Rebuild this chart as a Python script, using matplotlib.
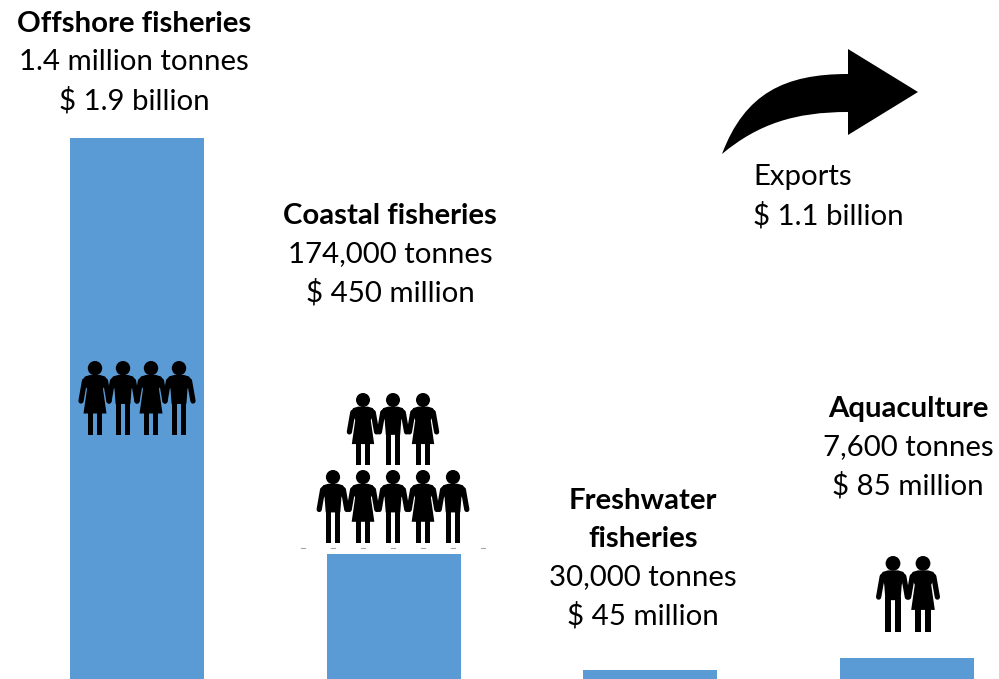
import matplotlib
matplotlib.use("Agg")
import matplotlib.pyplot as plt
from matplotlib.patches import Circle, Polygon, PathPatch
from matplotlib.path import Path

# landed value of each sector, $ million
sectors = ["Offshore fisheries", "Coastal fisheries", "Freshwater fisheries", "Aquaculture"]
value_musd = [1900, 450, 45, 85]

titles = ["Offshore fisheries", "Coastal fisheries", "Freshwater\nfisheries", "Aquaculture"]
tonnes = ["1.4 million tonnes", "174,000 tonnes", "30,000 tonnes", "7,600 tonnes"]
values = ["$ 1.9 billion", "$ 450 million", "$ 45 million", "$ 85 million"]
exports = ["Exports", "$ 1.1 billion"]

BLUE = "#5B9BD5"
FONT = "Lato"
SIZE = 21.2
LINE = 38.2

fig = plt.figure(figsize=(9.99, 6.79), dpi=100)

ax = fig.add_axes([0, 0, 1, 1])
ax.bar(range(len(sectors)), value_musd, width=0.523, color=BLUE)
ax.set_xlim(-0.536, 3.36)
# zero sits just under the bottom edge
ax.set_ylim(12.2, 2381)
ax.axis("off")

# second layer in pixel units for the labels and pictograms
top = fig.add_axes([0, 0, 1, 1])
top.set_xlim(0, 999)
top.set_ylim(679, 0)
top.axis("off")
top.patch.set_alpha(0)


def person(cx, y0, kind, h=74):
    s = h / 74
    def pts(lst):
        return [(cx + a * s, y0 + b * s) for a, b in lst]
    top.add_patch(Circle((cx, y0 + 7.2 * s), 7.2 * s, color="black", lw=0))
    for side in (-1, 1):
        top.plot([cx + side * 10.5 * s, cx + side * 14 * s], [y0 + 20 * s, y0 + 40 * s],
                 color="black", lw=3.8, solid_capstyle="round")
        # leg
        top.add_patch(Polygon(pts([(side * 1.6, 40), (side * 7.4, 40), (side * 7.4, 74), (side * 1.6, 74)]),
                              color="black", lw=0))
    if kind == "m":
        body = [(-5, 14), (5, 14), (10, 15.5), (12.5, 19), (8.5, 28), (7.4, 43), (-7.4, 43), (-8.5, 28), (-12.5, 19), (-10, 15.5)]
    else:
        body = [(-5, 14), (5, 14), (10, 15.5), (12.5, 19), (8, 28), (11.5, 52.5), (-11.5, 52.5), (-8, 28), (-12.5, 19), (-10, 15.5)]
    top.add_patch(Polygon(pts(body), color="black", lw=0))


for cx, kind in zip([95, 123, 151, 179], "wmwm"):
    person(cx, 361, kind)
for cx, kind in zip([363, 393, 423], "wmw"):
    person(cx, 393, kind, 72)
for cx, kind in zip([333, 363, 393, 423, 453], "mwmwm"):
    person(cx, 470, kind, 73)
for cx, kind in zip([893, 923], "mw"):
    person(cx, 556, kind, 76)

# faint ticks under the coastal group
for x in [303, 333, 363, 393, 423, 453, 483]:
    top.plot([x - 2, x + 2], [548, 548], color="#a6a6a6", lw=0.8)

# export arrow
verts = [(722, 154), (745, 93), (785, 74), (848, 74), (848, 49), (918, 92), (848, 135), (848, 112),
         (795, 112), (758, 124), (722, 154), (722, 154)]
codes = [Path.MOVETO, Path.CURVE4, Path.CURVE4, Path.CURVE4, Path.LINETO, Path.LINETO, Path.LINETO,
         Path.LINETO, Path.CURVE4, Path.CURVE4, Path.CURVE4, Path.CLOSEPOLY]
top.add_patch(PathPatch(Path(verts, codes), color="black", lw=0))


def stack(x, y, bold_lines, plain_lines):
    for t in bold_lines:
        top.text(x, y, t, ha="center", va="center", family=FONT, size=SIZE, weight="bold", color="black")
        y += LINE
    for t in plain_lines:
        top.text(x, y, t, ha="center", va="center", family=FONT, size=SIZE, color="black")
        y += LINE


label_x = [134, 390, 643, 908]
label_y = [24, 216, 501, 409]
for i in range(len(titles)):
    stack(label_x[i], label_y[i], titles[i].split("\n"), [tonnes[i], values[i]])

for i, t in enumerate(exports):
    top.text(753, 177.5 + i * LINE, t, ha="left", va="center", family=FONT, size=SIZE, color="black")

fig.savefig("out.png", dpi=100)
